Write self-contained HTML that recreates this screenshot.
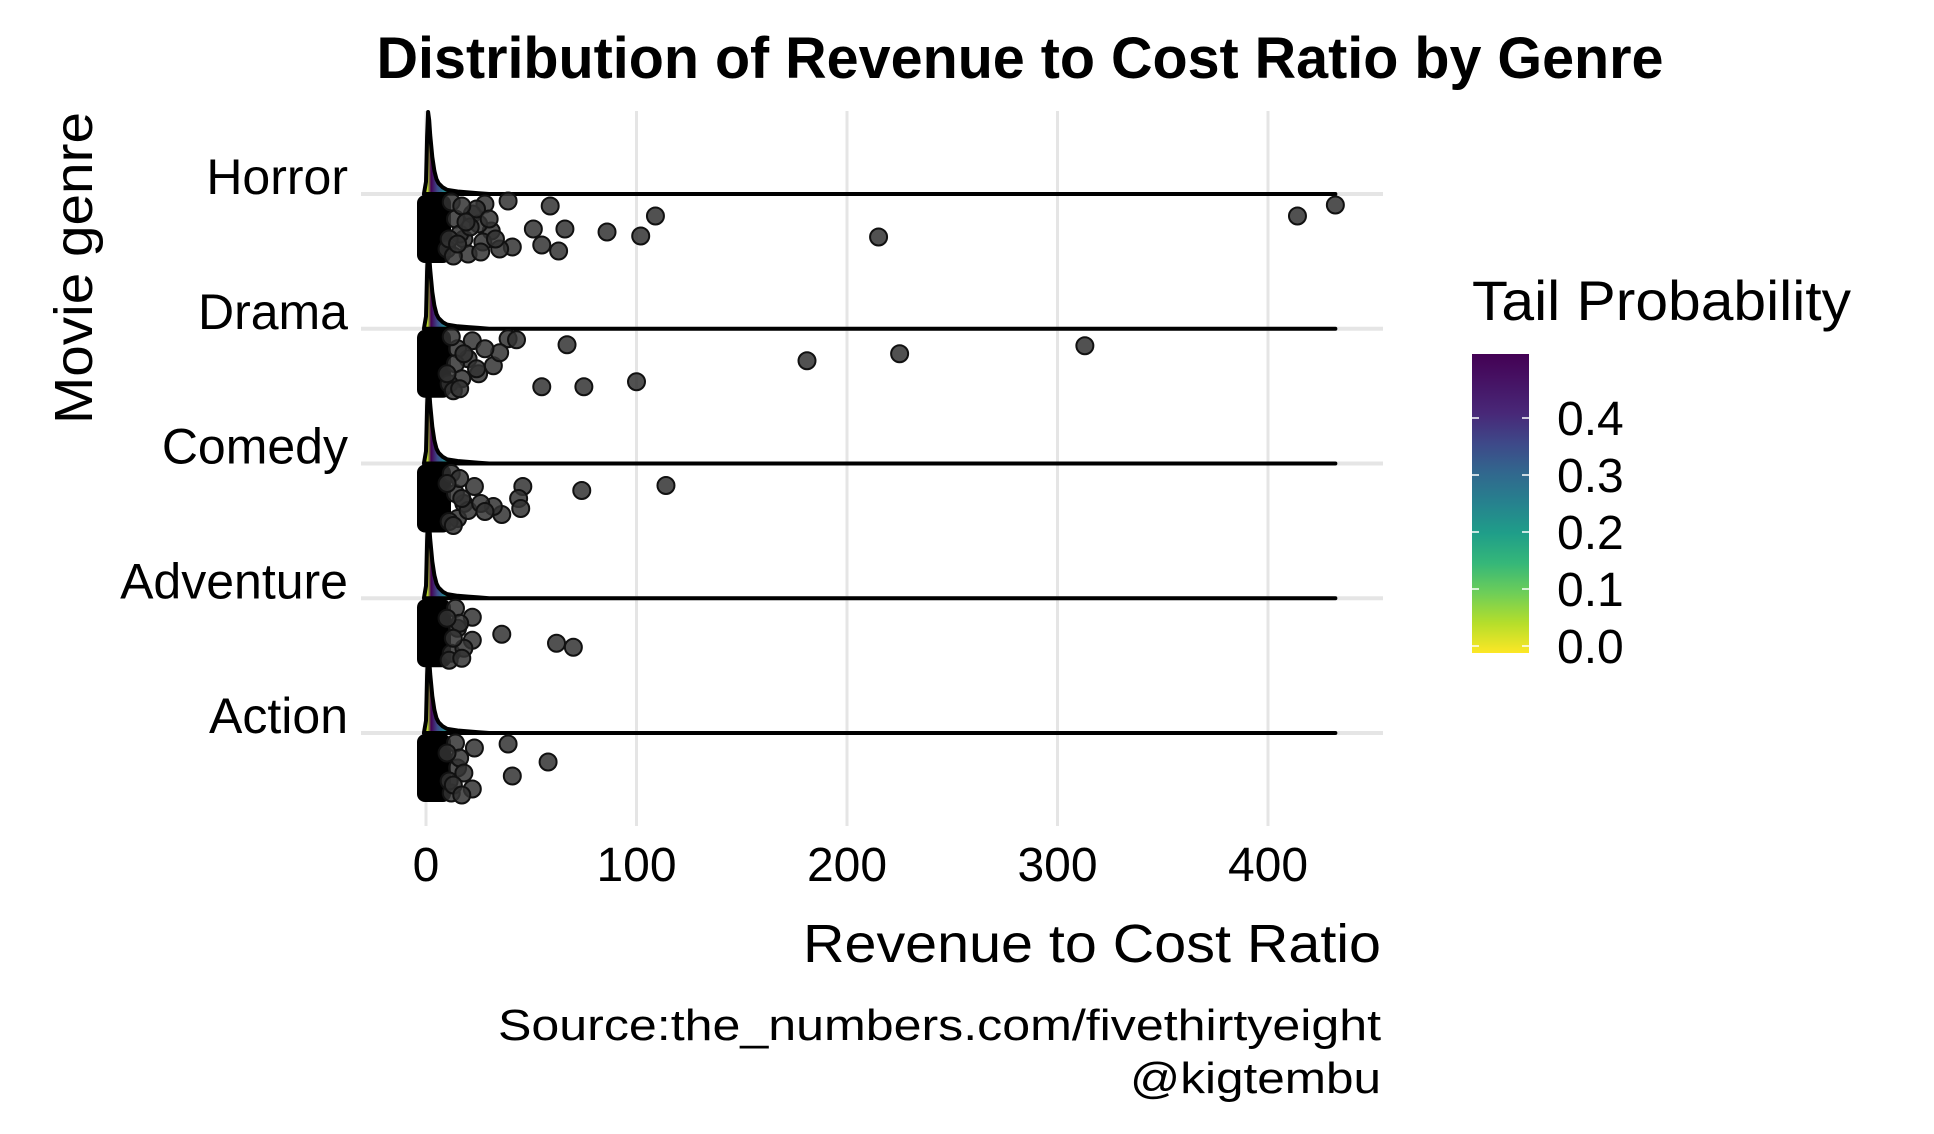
<!DOCTYPE html>
<html><head><meta charset="utf-8"><style>
html,body{margin:0;padding:0;background:#fff;}
svg{display:block;font-family:"Liberation Sans",Arial,sans-serif;}
</style></head><body>
<svg id="chart" width="1934" height="1134" viewBox="0 0 1934 1134" xmlns="http://www.w3.org/2000/svg">
<defs>
<linearGradient id="cbar" x1="0" y1="1" x2="0" y2="0">
<stop offset="0" stop-color="#fde725"/><stop offset="0.1" stop-color="#b5de2b"/><stop offset="0.2" stop-color="#6ece58"/><stop offset="0.3" stop-color="#35b779"/><stop offset="0.4" stop-color="#1f9e89"/><stop offset="0.5" stop-color="#26828e"/><stop offset="0.6" stop-color="#31688e"/><stop offset="0.7" stop-color="#3e4989"/><stop offset="0.8" stop-color="#482878"/><stop offset="1" stop-color="#440154"/>
</linearGradient>
<linearGradient id="dens" gradientUnits="userSpaceOnUse" x1="424" y1="0" x2="468" y2="0">
<stop offset="0" stop-color="#fde725"/><stop offset="0.08" stop-color="#b5de2b"/><stop offset="0.16" stop-color="#440154"/><stop offset="0.3" stop-color="#3e4989"/><stop offset="0.45" stop-color="#26828e"/><stop offset="0.6" stop-color="#35b779"/><stop offset="0.8" stop-color="#b5de2b"/><stop offset="1" stop-color="#fde725"/>
</linearGradient>
</defs>
<g id="grid"></g>
<g id="ridges"></g>
<g id="points"></g>
<g id="axes"></g>
<text x="1020" y="78" text-anchor="middle" font-size="58" font-weight="bold" textLength="1287" lengthAdjust="spacingAndGlyphs">Distribution of Revenue to Cost Ratio by Genre</text>
<text transform="translate(92,268) rotate(-90)" text-anchor="middle" font-size="54" textLength="312" lengthAdjust="spacingAndGlyphs">Movie genre</text>
<text x="1381" y="962" text-anchor="end" font-size="54" textLength="578" lengthAdjust="spacingAndGlyphs">Revenue to Cost Ratio</text>
<text x="1381" y="1040" text-anchor="end" font-size="44" textLength="883" lengthAdjust="spacingAndGlyphs">Source:the_numbers.com/fivethirtyeight</text>
<text x="1381" y="1093" text-anchor="end" font-size="44" textLength="251" lengthAdjust="spacingAndGlyphs">@kigtembu</text>
<g>
<text x="1472" y="320" font-size="56" textLength="379" lengthAdjust="spacingAndGlyphs">Tail Probability</text>
<rect x="1472" y="354" width="57" height="299" fill="url(#cbar)"/>
<g id="legend-ticks"></g>
</g>
</svg>
<script>
const genres = ["Horror","Drama","Comedy","Adventure","Action"];
const xTicks = [0,100,200,300,400];
const legendTicks = [0.0,0.1,0.2,0.3,0.4];
const legendLabels = ["0.0","0.1","0.2","0.3","0.4"];
const densityX = [-1,0,0.5,1,1.5,2,3,4,5,6,8,10,15,20,25,30];
const densityH = [0,0.15,0.7,1,0.9,0.72,0.45,0.28,0.18,0.13,0.08,0.05,0.03,0.02,0.01,0];
const maxRatio = 432;
const horrorX = [28,39,59,109,86,102,215,414,432,51,66,55,63,41,31,22,18,25,35,12,14,16,20,24,10,13,17,21,11,15,19,27,30,33,26];
const horrorOff = [10,7,12,22,38,42,43,22,11,35,35,51,57,53,37,20,45,30,55,8,25,40,60,15,55,62,12,33,45,50,28,48,25,45,58];
const dramaX = [39,43,67,181,225,313,55,75,100,32,35,20,25,15,12,14,17,22,11,13,18,24,28,16,10];
const dramaOff = [10,11,16,32,25,17,58,58,53,37,24,30,45,20,8,35,50,12,55,62,25,40,20,60,45];
const comedyX = [74,114,46,44,45,36,32,23,18,15,12,14,16,20,11,13,17,26,28,10];
const comedyOff = [27,22,23,35,45,51,43,23,40,55,10,30,15,47,58,62,35,40,48,20];
const adventureX = [36,62,70,22,22,15,12,14,16,11,18,13,10,17];
const adventureOff = [36,45,49,19,42,30,55,10,25,62,50,40,20,60];
const actionX = [39,58,41,22,23,15,12,14,16,11,18,13,17,10];
const actionOff = [11,29,43,56,15,35,60,10,25,48,40,52,62,20];
const pointsX = [horrorX,dramaX,comedyX,adventureX,actionX];
const pointsOff = [horrorOff,dramaOff,comedyOff,adventureOff,actionOff];

const NS = "http://www.w3.org/2000/svg";
const X0 = 426, XS = 2.105;
const xScale = v => X0 + v*XS;
const yBase = i => 194 + i*134.75;
const PEAK = 82;
const legY = v => 646 - v*570;
function mk(tag, attrs, parent){const e=document.createElementNS(NS,tag);for(const k in attrs)e.setAttribute(k,attrs[k]);parent.appendChild(e);return e;}
const grid=document.getElementById('grid'), ridges=document.getElementById('ridges'), pts=document.getElementById('points'), axes=document.getElementById('axes'), lt=document.getElementById('legend-ticks');

xTicks.forEach(t=>{
  const l=mk('line',{x1:xScale(t),x2:xScale(t),y1:111,y2:826,stroke:'#e5e5e5','stroke-width':3},grid);
  
  
  const tx=mk('text',{x:xScale(t),y:881,'text-anchor':'middle','font-size':48},axes);
  tx.textContent=t;
  
  
});
genres.forEach((g,i)=>{
  const y=yBase(i);
  const l=mk('line',{x1:361,x2:1383,y1:y,y2:y,stroke:'#e5e5e5','stroke-width':4},grid);
  
  
  const tx=mk('text',{x:348,y:y,'text-anchor':'end','font-size':50},axes);
  tx.textContent=g;
  
  
});
genres.forEach((g,i)=>{
  const y=yBase(i);
  let d='M'+xScale(densityX[0])+','+y;
  densityX.forEach((v,k)=>{d+=' L'+xScale(v).toFixed(1)+','+(y-densityH[k]*PEAK).toFixed(1);});
  d+=' L'+xScale(maxRatio)+','+y+' Z';
  const p=mk('path',{d:d,fill:'url(#dens)',stroke:'#000','stroke-width':4,'stroke-linejoin':'round'},ridges);
  
  
});
genres.forEach((g,i)=>{
  const y=yBase(i);
  const b=mk('rect',{x:417,y:y+1,width:34,height:68,rx:8,fill:'#000'},pts);
  
  
  pointsX[i].forEach((v,k)=>{
    const c=mk('circle',{cx:xScale(v),cy:y+pointsOff[i][k],r:8.5,fill:'#333','fill-opacity':0.85,stroke:'#111','stroke-width':2},pts);
    
    
  });
});
legendTicks.forEach((v,k)=>{
  const y=legY(v);
  const a=mk('line',{x1:1472,x2:1479,y1:y,y2:y,stroke:'#fff','stroke-width':1.5},lt);
  
  
  const b=mk('line',{x1:1522,x2:1529,y1:y,y2:y,stroke:'#fff','stroke-width':1.5},lt);
  
  
  const t=mk('text',{x:1557,y:y+17,'font-size':48},lt);
  t.textContent=legendLabels[k];
  
  
});
</script>
</body></html>
